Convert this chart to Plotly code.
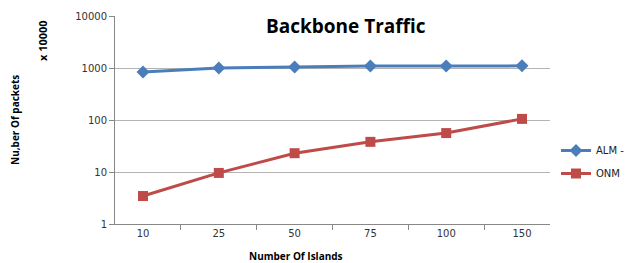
import plotly.graph_objects as go

categories = ["10", "25", "50", "75", "100", "150"]
alm_values = [840, 1000, 1050, 1090, 1090, 1100]
onm_values = [3.45, 9.6, 23, 38, 56, 105]
series_names = ["ALM -", "ONM"]

W, H = 629, 263
L, R, T, B = 115, 79, 16, 39
PW, PH = W - L - R, H - T - B


def px_x(x):
    return (x - L) / PW


def px_y(y):
    return (H - B - y) / PH


fig = go.Figure()
fig.add_trace(go.Scatter(x=categories, y=alm_values, name=series_names[0], mode="lines+markers",
                         legendgroup="a",
                         line=dict(color="#4a7ebb", width=3),
                         marker=dict(symbol="diamond", size=10, color="#4a7ebb")))
fig.add_trace(go.Scatter(x=categories, y=onm_values, name=series_names[1], mode="lines+markers",
                         legendgroup="b",
                         line=dict(color="#be4b48", width=3),
                         marker=dict(symbol="square", size=10, color="#be4b48")))

fig.update_layout(
    width=W, height=H,
    margin=dict(l=L, r=R, t=T, b=B, autoexpand=False),
    paper_bgcolor="white", plot_bgcolor="white",
    font=dict(family="DejaVu Sans", size=10, color="#333333"),
    showlegend=True,
    legend=dict(x=px_x(556), y=px_y(136), xanchor="left", yanchor="top", bgcolor="rgba(0,0,0,0)",
                font=dict(family="DejaVu Sans", size=10, color="#222222"),
                itemwidth=30, tracegroupgap=4),
    xaxis=dict(type="category", showgrid=False, showline=True, linecolor="#888888", linewidth=1,
               ticks="outside", tickson="boundaries", ticklen=5, tickcolor="#888888",
               tickfont=dict(size=10, color="#333333")),
    yaxis=dict(type="log", range=[0, 4], showgrid=True, gridcolor="#b4b4b4", gridwidth=1,
               showline=True, linecolor="#888888", linewidth=1, zeroline=False,
               ticks="outside", ticklen=5, tickcolor="#888888",
               tickvals=[1, 10, 100, 1000, 10000], ticktext=["1", "10", "100", "1000", "10000"],
               tickfont=dict(size=10, color="#333333")),
    annotations=[
        dict(text="<b>Backbone Traffic</b>", x=px_x(346), y=px_y(26), xref="paper", yref="paper",
             showarrow=False, font=dict(family="Open Sans", size=19, color="#000000"),
             xanchor="center", yanchor="middle"),
        dict(text="<b>Nu,ber Of packets</b>", x=px_x(15), y=px_y(120), xref="paper", yref="paper",
             showarrow=False, textangle=-90, font=dict(family="Open Sans", size=10, color="#000000"),
             xanchor="center", yanchor="middle"),
        dict(text="<b>x 10000</b>", x=px_x(42), y=px_y(41), xref="paper", yref="paper",
             showarrow=False, textangle=-90, font=dict(family="Open Sans", size=11, color="#000000"),
             xanchor="center", yanchor="middle"),
        dict(text="<b>Number Of Islands</b>", x=px_x(296), y=px_y(256), xref="paper", yref="paper",
             showarrow=False, font=dict(family="Open Sans", size=10, color="#000000"),
             xanchor="center", yanchor="middle"),
    ],
)

fig.write_html(
    "out.html",
    config={"displayModeBar": False},
    post_script="document.body.style.margin='0';document.body.style.overflow='hidden';",
)
